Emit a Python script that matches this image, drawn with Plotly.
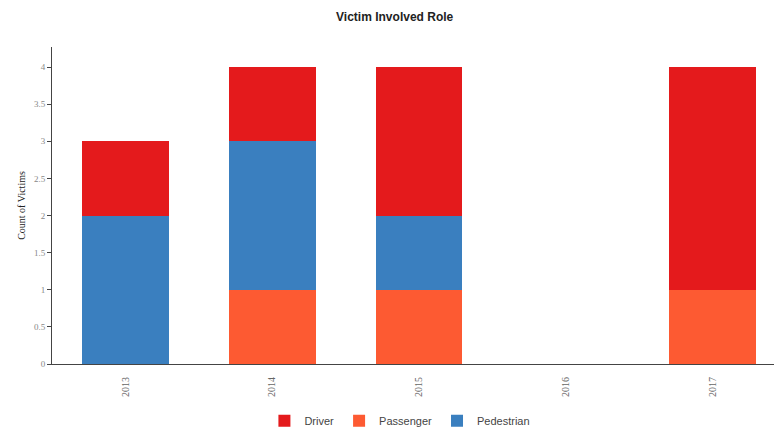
import plotly.graph_objects as go

# categories on the x axis (labels in the source are too blurred to read; best guess)
years = ["2013", "2014", "2015", "2016", "2017"]

# counts per role, per category
passenger = [0, 1, 1, 0, 1]
pedestrian = [2, 2, 1, 0, 0]
driver = [1, 1, 2, 0, 3]

colors = {
    "Driver": "#e41a1c",
    "Passenger": "#fd5a32",
    "Pedestrian": "#3a7fbf",
}
order = {"Driver": 1, "Passenger": 2, "Pedestrian": 3}

fig = go.Figure()

# stacking order bottom -> top: Passenger, Pedestrian, Driver
for name, vals in [("Passenger", passenger), ("Pedestrian", pedestrian), ("Driver", driver)]:
    fig.add_trace(go.Bar(
        x=years,
        y=vals,
        name=name,
        marker=dict(color=colors[name], line=dict(width=0)),
        legendrank=order[name],
    ))

# the page body adds ~8px around the figure, so the figure is a bit smaller
fig.update_layout(
    barmode="stack",
    bargap=0.41,
    width=778,
    height=423,
    margin=dict(l=44, r=0, t=39, b=67, autoexpand=False),
    paper_bgcolor="#ffffff",
    plot_bgcolor="#ffffff",
    title=dict(
        text="<b>Victim Involved Role</b>",
        x=0.497,
        xanchor="center",
        xref="container",
        y=0.979,
        yanchor="middle",
        font=dict(family="Liberation Sans, Arial", size=12, color="#222222"),
    ),
    legend=dict(
        orientation="h",
        x=0.474,
        xanchor="center",
        yref="container",
        y=0.024,
        yanchor="middle",
        font=dict(family="Liberation Sans, Arial", size=11, color="#444444"),
        traceorder="normal",
        itemwidth=30,
    ),
    showlegend=True,
)

fig.update_xaxes(
    showgrid=False,
    showline=True,
    linecolor="#444444",
    linewidth=1,
    ticks="",
    tickangle=-90,
    ticklabelstandoff=8,
    tickfont=dict(family="Liberation Serif, Times New Roman", size=10, color="#666666"),
)

fig.update_yaxes(
    range=[0, 4.27],
    dtick=0.5,
    showgrid=False,
    zeroline=False,
    showline=True,
    linecolor="#444444",
    linewidth=1,
    ticks="outside",
    ticklen=4,
    tickcolor="#444444",
    tickfont=dict(family="Liberation Serif, Times New Roman", size=9, color="#888888"),
    title=dict(
        text="Count of Victims",
        font=dict(family="Liberation Serif, Times New Roman", size=10, color="#222222"),
        standoff=6,
    ),
)

fig.write_html("out.html")
